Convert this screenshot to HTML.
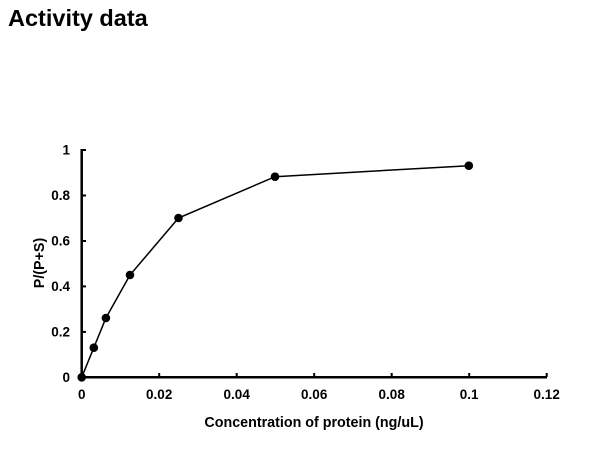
<!DOCTYPE html>
<html><head><style>
html,body{margin:0;padding:0;background:#fff;}
</style></head><body>
<svg width="608" height="461" xmlns="http://www.w3.org/2000/svg" style="display:block">
<text x="8" y="26" font-family="Liberation Sans, sans-serif" font-weight="bold" font-size="23.5" fill="#000">Activity data</text>
<g stroke="#000" stroke-width="2.5" fill="none">
<line x1="81.7" y1="149" x2="81.7" y2="378"/>
<line x1="80.5" y1="377.3" x2="547" y2="377.3"/>
</g>
<g stroke="#000" stroke-width="2">
<line x1="81.7" y1="150" x2="86" y2="150"/>
<line x1="81.7" y1="195.5" x2="86" y2="195.5"/>
<line x1="81.7" y1="241" x2="86" y2="241"/>
<line x1="81.7" y1="286.4" x2="86" y2="286.4"/>
<line x1="81.7" y1="331.9" x2="86" y2="331.9"/>
<line x1="159.2" y1="377" x2="159.2" y2="373"/>
<line x1="236.7" y1="377" x2="236.7" y2="373"/>
<line x1="314.2" y1="377" x2="314.2" y2="373"/>
<line x1="391.7" y1="377" x2="391.7" y2="373"/>
<line x1="469.2" y1="377" x2="469.2" y2="373"/>
<line x1="546.7" y1="377" x2="546.7" y2="373"/>
</g>
<g font-family="Liberation Sans, sans-serif" font-weight="bold" font-size="13.5" fill="#000" text-anchor="end">
<text x="70" y="382">0</text>
<text x="70" y="336.5">0.2</text>
<text x="70" y="291">0.4</text>
<text x="70" y="245.5">0.6</text>
<text x="70" y="200">0.8</text>
<text x="70" y="154.5">1</text>
</g>
<g font-family="Liberation Sans, sans-serif" font-weight="bold" font-size="13.5" fill="#000" text-anchor="middle">
<text x="81.7" y="399">0</text>
<text x="159.2" y="399">0.02</text>
<text x="236.7" y="399">0.04</text>
<text x="314.2" y="399">0.06</text>
<text x="391.7" y="399">0.08</text>
<text x="469.2" y="399">0.1</text>
<text x="546.7" y="399">0.12</text>
<text x="314" y="427" font-size="14.3">Concentration of protein (ng/uL)</text>
<text transform="translate(44,263) rotate(-90)" font-size="14.3">P/(P+S)</text>
</g>
<polyline fill="none" stroke="#000" stroke-width="1.5" points="81.7,377.3 93.8,347.7 105.9,318 130,275 178.5,218 275,176.7 468.8,165.7"/>
<g fill="#000">
<circle cx="81.7" cy="377.3" r="4.3"/>
<circle cx="93.8" cy="347.7" r="4.3"/>
<circle cx="105.9" cy="318" r="4.3"/>
<circle cx="130" cy="275" r="4.3"/>
<circle cx="178.5" cy="218" r="4.3"/>
<circle cx="275" cy="176.7" r="4.3"/>
<circle cx="468.8" cy="165.7" r="4.3"/>
</g>
</svg>
</body></html>
